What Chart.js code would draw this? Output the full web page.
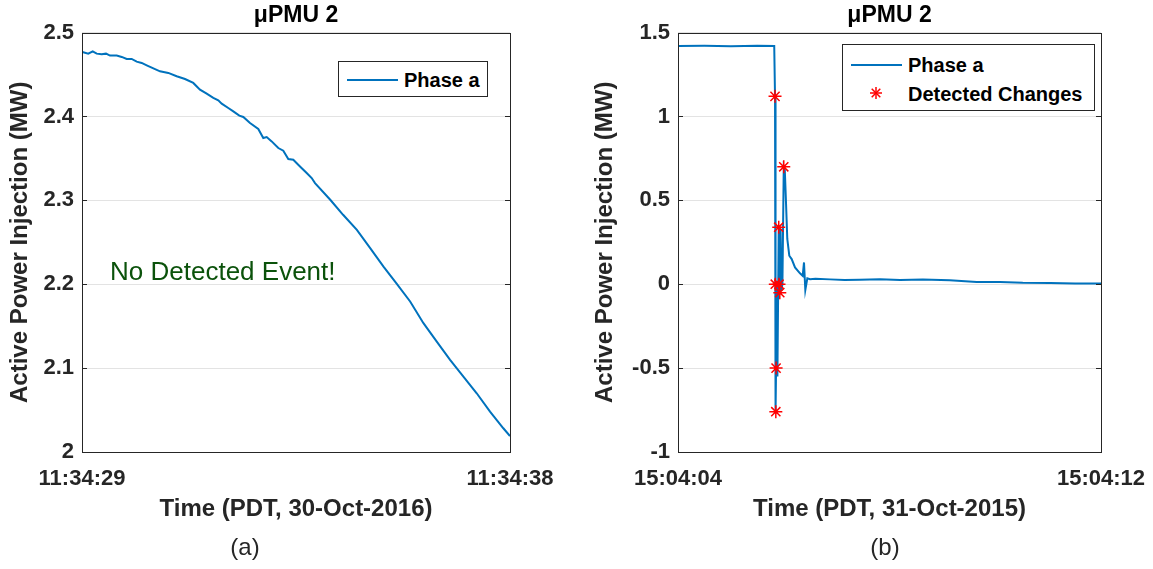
<!DOCTYPE html>
<html>
<head>
<meta charset="utf-8">
<script src="https://cdn.jsdelivr.net/npm/chart.js@4.4.1/dist/chart.umd.min.js"></script>
<style>
  html, body { margin: 0; padding: 0; background: #fff; }
  #wrap { position: relative; width: 1153px; height: 569px; font-family: 'Liberation Sans', Arial, sans-serif; color: #262626; }
  canvas { position: absolute; top: 0; }
  .legend { position: absolute; box-sizing: border-box; border: 1px solid #262626; background: #fff; font-weight: bold; font-size: 20px; color: #000; }
  .legend .sample { position: absolute; left: 8px; width: 51px; height: 2px; background: #0072bd; }
  .legend .lbl { position: absolute; left: 65px; line-height: 24px; white-space: nowrap; }
  .legend svg { position: absolute; }
  .caption { position: absolute; top: 533px; font-size: 24px; transform: translateX(-50%); }
</style>
</head>
<body>
<div id="wrap">
  <canvas id="chart-a" width="576" height="569" style="left:0"></canvas>
  <canvas id="chart-b" width="577" height="569" style="left:576px"></canvas>

  <div class="legend" style="left:338px; top:61px; width:150px; height:36px;">
    <div class="sample" style="top:17px"></div>
    <div class="lbl" style="top:6px">Phase a</div>
  </div>

  <div class="legend" style="left:842px; top:44px; width:253px; height:67px;">
    <div class="sample" style="top:19px"></div>
    <div class="lbl" style="top:8px">Phase a</div>
    <svg style="left:26px; top:41px" width="14" height="14" viewBox="-7 -7 14 14">
      <g stroke="#ff0000" stroke-width="1.5">
        <line x1="-6" y1="0" x2="6" y2="0"/><line x1="0" y1="-6" x2="0" y2="6"/>
        <line x1="-4.3" y1="-4.3" x2="4.3" y2="4.3"/><line x1="-4.3" y1="4.3" x2="4.3" y2="-4.3"/>
      </g>
    </svg>
    <div class="lbl" style="top:37px">Detected Changes</div>
  </div>

  <div class="caption" style="left:245px">(a)</div>
  <div class="caption" style="left:885px">(b)</div>
</div>

<script>
// (a) 30-Oct-2016, seconds after 11:34:29
const timesA = [0, 0.027, 0.132, 0.225, 0.309, 0.414, 0.505, 0.589, 0.730, 0.835, 0.940, 1.045, 1.150,
  1.255, 1.361, 1.466, 1.640, 1.815, 1.991, 2.166, 2.340, 2.481, 2.622, 2.761, 2.866, 2.938, 3.076,
  3.182, 3.308, 3.392, 3.533, 3.707, 3.812, 3.884, 3.989, 4.128, 4.233, 4.338, 4.443, 4.584, 4.725,
  4.830, 4.90, 5.22, 5.49, 5.78, 6.06, 6.34, 6.62, 6.90, 7.18, 7.46, 7.74, 8.02, 8.30, 8.58, 8.86, 9.0];
const powerA = [2.4768, 2.4765, 2.4749, 2.4777, 2.4749, 2.4741, 2.4749, 2.4726, 2.4726, 2.4710, 2.4686,
  2.4686, 2.4654, 2.4638, 2.4610, 2.4582, 2.4538, 2.4519, 2.4479, 2.4447, 2.4400, 2.4320, 2.4272,
  2.4221, 2.4192, 2.4153, 2.4101, 2.4061, 2.4010, 2.3994, 2.3922, 2.3851, 2.3743, 2.3755, 2.3703,
  2.3624, 2.3592, 2.3493, 2.3484, 2.3404, 2.3326, 2.3266, 2.3206, 2.3007, 2.2828, 2.2649, 2.2431,
  2.2211, 2.2005, 2.1794, 2.1536, 2.1316, 2.1098, 2.0899, 2.070, 2.0481, 2.0283, 2.019];
const yTicksA = [2, 2.1, 2.2, 2.3, 2.4, 2.5];
const xTicksA = [0, 9];
const xLabelsA = ['11:34:29', '11:34:38'];

// (b) 31-Oct-2015, seconds after 15:04:04
const timesB = [0, 0.5, 1.0, 1.5, 1.82, 1.835, 1.84, 1.85, 1.855, 1.87, 1.88, 1.905, 1.91, 1.925, 1.94, 1.955,
  1.975, 2.0, 2.02, 2.04, 2.067, 2.105, 2.15, 2.213, 2.307, 2.358, 2.383, 2.408, 2.446, 2.497, 2.6, 2.875,
  3.15, 3.44, 3.82, 4.2, 4.63, 5.14, 5.65, 6.09, 6.52, 7.04, 7.51, 8.0];
const powerB = [1.42, 1.421, 1.419, 1.421, 1.42, 1.12, 0.0, -0.76, -0.50, 0.02, -0.55, 0.34, 0.0, -0.05, 0.33, -0.04,
  0.0, 0.70, 0.68, 0.51, 0.27, 0.17, 0.15, 0.10, 0.065, 0.05, 0.13, -0.035, 0.035, 0.03, 0.032, 0.029,
  0.026, 0.027, 0.030, 0.025, 0.028, 0.024, 0.014, 0.014, 0.009, 0.008, 0.004, 0.004];
const changeTimesB = [1.835, 1.84, 1.85, 1.855, 1.905, 1.91, 1.925, 2.0];
const changePowerB = [1.12, 0.0, -0.76, -0.50, 0.34, 0.0, -0.05, 0.70];
const yTicksB = [-1, -0.5, 0, 0.5, 1, 1.5];
const xTicksB = [0, 8];
const xLabelsB = ['15:04:04', '15:04:12'];

const FONT = "'Liberation Sans', Arial, sans-serif";
const TXT = '#262626';
const BLUE = '#0072bd';

// MATLAB-ish box with inner tick marks
const framePlugin = {
  id: 'frame',
  afterDatasetsDraw(chart) {
    const { ctx, chartArea: a, scales } = chart;
    ctx.save();
    ctx.strokeStyle = TXT;
    ctx.lineWidth = 1;
    ctx.strokeRect(Math.round(a.left) + 0.5, Math.round(a.top) + 0.5, Math.round(a.width), Math.round(a.height));
    ctx.beginPath();
    scales.y.ticks.forEach(t => {
      const y = Math.round(scales.y.getPixelForValue(t.value)) + 0.5;
      ctx.moveTo(a.left, y); ctx.lineTo(a.left + 5, y);
      ctx.moveTo(a.right - 5, y); ctx.lineTo(a.right, y);
    });
    ctx.stroke();
    ctx.restore();
  }
};

// text note inside the plot, anchored in data units
const notePlugin = {
  id: 'note',
  afterDatasetsDraw(chart, args, opts) {
    if (!opts.text) return;
    const { ctx, scales } = chart;
    ctx.save();
    ctx.font = '26px ' + FONT;
    ctx.fillStyle = opts.color;
    ctx.textAlign = 'left';
    ctx.textBaseline = 'middle';
    ctx.fillText(opts.text, scales.x.getPixelForValue(opts.x), scales.y.getPixelForValue(opts.y));
    ctx.restore();
  }
};

function makeOptions(cfg) {
  return {
    responsive: false,
    animation: false,
    layout: { padding: { left: 0, right: cfg.padRight, top: 0, bottom: 37 } },
    plugins: {
      legend: { display: false },
      tooltip: { enabled: false },
      title: {
        display: true, text: 'μPMU 2', fullSize: false, color: '#000',
        font: { family: FONT, size: 23, weight: 'bold' }, padding: { top: 2, bottom: 3 }
      },
      note: cfg.note || {}
    },
    scales: {
      x: {
        type: 'linear', min: cfg.xTicks[0], max: cfg.xTicks[cfg.xTicks.length - 1],
        grid: { display: false }, border: { display: false },
        afterBuildTicks: s => { s.ticks = cfg.xTicks.map(v => ({ value: v })); },
        afterFit: s => { s.height = 80; },
        ticks: {
          color: TXT, padding: 6, maxRotation: 0, autoSkip: false,
          font: { family: FONT, size: 22, weight: 'bold' },
          callback: (v, i) => cfg.xLabels[i]
        },
        title: {
          display: true, text: cfg.xTitle, color: TXT, padding: { top: 4, bottom: 8 },
          font: { family: FONT, size: 24, weight: 'bold' }
        }
      },
      y: {
        min: cfg.yTicks[0], max: cfg.yTicks[cfg.yTicks.length - 1],
        grid: { color: '#e3e3e3', drawTicks: false }, border: { display: false },
        afterBuildTicks: s => { s.ticks = cfg.yTicks.map(v => ({ value: v })); },
        afterFit: s => { s.width = cfg.yWidth; },
        ticks: {
          color: TXT, padding: 8,
          font: { family: FONT, size: 22, weight: 'bold' },
          callback: v => String(v)
        },
        title: {
          display: true, text: 'Active Power Injection (MW)', color: TXT, padding: { top: cfg.yTitlePad, bottom: 0 },
          font: { family: FONT, size: 24, weight: 'bold' }
        }
      }
    }
  };
}

new Chart(document.getElementById('chart-a'), {
  type: 'line',
  data: {
    datasets: [{
      label: 'Phase a',
      data: timesA.map((t, i) => ({ x: t, y: powerA[i] })),
      borderColor: BLUE, borderWidth: 2, pointRadius: 0, tension: 0, fill: false
    }]
  },
  options: makeOptions({
    padRight: 66, yWidth: 82, yTitlePad: 6,
    xTicks: xTicksA, xLabels: xLabelsA, yTicks: yTicksA,
    xTitle: 'Time (PDT, 30-Oct-2016)',
    note: { text: 'No Detected Event!', x: 0.59, y: 2.2135, color: '#0b520b' }
  }),
  plugins: [framePlugin, notePlugin]
});

new Chart(document.getElementById('chart-b'), {
  type: 'line',
  data: {
    datasets: [{
      label: 'Phase a',
      data: timesB.map((t, i) => ({ x: t, y: powerB[i] })),
      borderColor: BLUE, borderWidth: 2, pointRadius: 0, tension: 0, fill: false,
      order: 2
    }, {
      label: 'Detected Changes',
      data: changeTimesB.map((t, i) => ({ x: t, y: changePowerB[i] })),
      showLine: false, pointStyle: 'star', pointRadius: 6.5,
      pointBorderColor: '#ff0000', pointBackgroundColor: '#ff0000', pointBorderWidth: 1.5,
      order: 1
    }]
  },
  options: makeOptions({
    padRight: 52, yWidth: 102, yTitlePad: 15,
    xTicks: xTicksB, xLabels: xLabelsB, yTicks: yTicksB,
    xTitle: 'Time (PDT, 31-Oct-2015)'
  }),
  plugins: [framePlugin, notePlugin]
});
</script>
</body>
</html>
